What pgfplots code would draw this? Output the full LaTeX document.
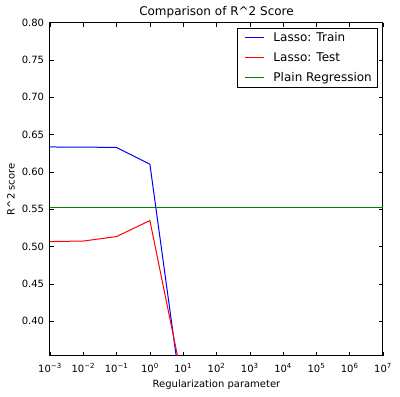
\documentclass[border=0pt]{standalone}
\usepackage{fontspec}
\setmainfont{DejaVu Sans}
\usepackage{pgfplots}
\pgfplotsset{compat=1.18}
\definecolor{mplgreen}{rgb}{0,0.5,0}
\newcommand{\supx}[1]{\textsuperscript{\fontsize{7}{8}\selectfont #1}}
\begin{document}
\fontsize{10}{12}\selectfont
\begin{tikzpicture}
\path[use as bounding box] (-50pt,-41pt) rectangle (350pt,356pt);
\begin{axis}[
  at={(0,0)}, anchor=south west,
  scale only axis, width=333pt, height=333.3pt,
  xmode=log, log basis x=10,
  xmin=1e-3, xmax=1e7, ymin=0.3535, ymax=0.80,
  xtick={1e-3,1e-2,1e-1,1,1e1,1e2,1e3,1e4,1e5,1e6,1e7},
  xticklabels={10\supx{−3},10\supx{−2},10\supx{−1},10\supx{0},10\supx{1},10\supx{2},10\supx{3},10\supx{4},10\supx{5},10\supx{6},10\supx{7}},
  ytick={0.40,0.45,0.50,0.55,0.60,0.65,0.70,0.75,0.80},
  xticklabel style={anchor=base, yshift=-16.5pt},
  yticklabel style={anchor=east, inner xsep=0pt, xshift=-5.7pt, /pgf/number format/.cd, fixed, fixed zerofill, precision=2, assume math mode=true},
  tick align=inside,
  major tick length=4pt, minor tick length=2pt,
  every tick/.style={black, line width=0.5pt},
  axis line style={line width=1pt},
  tick label style={font=\fontsize{10}{12}\selectfont},
  title={Comparison of R\textasciicircum 2 Score},
  every axis title/.style={at={(0.5,1)}, anchor=base, yshift=7.5pt, font=\fontsize{12}{14}\selectfont},
  xlabel={Regularization parameter},
  every axis x label/.style={at={(axis description cs:0.5,-0.096)}, anchor=base, font=\fontsize{10}{12}\selectfont},
  ylabel={R\textasciicircum 2 score},
  every axis y label/.style={at={(axis description cs:-0.117,0.5)}, anchor=center, rotate=90, font=\fontsize{10}{12}\selectfont},
  legend cell align=left,
  legend image code/.code={\path (0pt,0pt) (30pt,0pt); \draw[mark repeat=2,mark phase=2] plot coordinates {(4pt,0pt) (13.5pt,0pt) (23pt,0pt)};},
  legend style={at={(0.982,0.984)}, anchor=north east,
    font=\fontsize{12}{14}\selectfont, row sep=5.5pt},
]
\addplot[color=blue, draw=blue, line width=1pt] coordinates {(1e-3,0.6335) (1e-2,0.6334) (1e-1,0.6328) (1,0.6105) (10,0.285)};
\addlegendentry{Lasso: Train}
\addplot[color=red, draw=red, line width=1pt] coordinates {(1e-3,0.5068) (1e-2,0.5075) (1e-1,0.5135) (1,0.5350) (10,0.316)};
\addlegendentry{Lasso: Test}
\addplot[color=mplgreen, draw=mplgreen, line width=1pt] coordinates {(1e-3,0.5525) (1e7,0.5525)};
\addlegendentry{Plain Regression}
\end{axis}
\end{tikzpicture}
\end{document}
